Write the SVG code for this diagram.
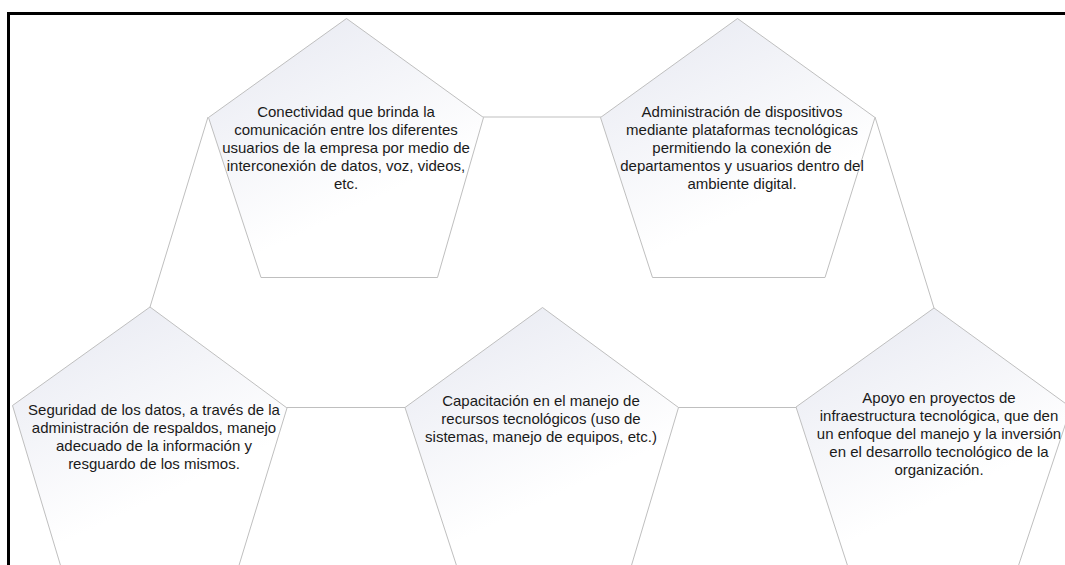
<svg xmlns="http://www.w3.org/2000/svg" width="1065" height="565" viewBox="0 0 1065 565">
<style>
.pent{fill:url(#g);stroke:#bfbfbf;stroke-width:1}
.conn{stroke:#bfbfbf;stroke-width:1;fill:none}
.t{font-family:"Liberation Sans",Arial,sans-serif;font-size:15px;fill:#1a1a1a;text-anchor:middle}
.frame{stroke:#000;stroke-width:3;fill:none}
</style>
<defs>
<linearGradient id="g" x1="0" y1="0" x2="0.4" y2="0.8">
<stop offset="0" stop-color="#e6e8f1"/>
<stop offset="1" stop-color="#ffffff"/>
</linearGradient>
</defs>
<rect width="1065" height="565" fill="#fff"/>
<path class="frame" d="M8.5 565 V13.5 H1065"/>
<g id="connectors">
<line class="conn" x1="483" y1="117" x2="601" y2="117"/>
<line class="conn" x1="875" y1="117" x2="934" y2="308"/>
<line class="conn" x1="208" y1="117" x2="150" y2="307"/>
<line class="conn" x1="287" y1="407.5" x2="405" y2="407.5"/>
<line class="conn" x1="678" y1="407.5" x2="796" y2="407.5"/>
</g>
<g id="node1">
<polygon class="pent" points="346.5,18.5 483.5,117.5 437.5,277.5 261,277.5 208.5,117.5"/>
<text class="t"><tspan x="346" y="117">Conectividad que brinda la</tspan><tspan x="346" y="135">comunicación entre los diferentes</tspan><tspan x="346" y="153">usuarios de la empresa por medio de</tspan><tspan x="346" y="171">interconexión de datos, voz, videos,</tspan><tspan x="346" y="189">etc.</tspan></text>
</g>
<g id="node2">
<polygon class="pent" points="737.5,18.5 875,117.5 825,277.5 652.5,277.5 600.5,117.5"/>
<text class="t"><tspan x="742" y="117">Administración de dispositivos</tspan><tspan x="742" y="135">mediante plataformas tecnológicas</tspan><tspan x="742" y="153">permitiendo la conexión de</tspan><tspan x="742" y="171">departamentos y usuarios dentro del</tspan><tspan x="742" y="189">ambiente digital.</tspan></text>
</g>
<g id="node3">
<polygon class="pent" points="542.5,307.5 678.5,407.5 631,567 457,567 405,407.5"/>
<text class="t"><tspan x="541" y="406">Capacitación en el manejo de</tspan><tspan x="541" y="424">recursos tecnológicos (uso de</tspan><tspan x="541" y="442">sistemas, manejo de equipos, etc.)</tspan></text>
</g>
<g id="node4">
<polygon class="pent" points="150,307 287,408 238.5,567 61,567 12.5,405.5"/>
<text class="t"><tspan x="154" y="415">Seguridad de los datos, a través de la</tspan><tspan x="154" y="433">administración de respaldos, manejo</tspan><tspan x="154" y="451">adecuado de la información y</tspan><tspan x="154" y="469">resguardo de los mismos.</tspan></text>
</g>
<g id="node5">
<polygon class="pent" points="934,308 1071,407.5 1018,567 848,567 796,407"/>
<text class="t"><tspan x="939" y="403">Apoyo en proyectos de</tspan><tspan x="939" y="421">infraestructura tecnológica, que den</tspan><tspan x="939" y="439">un enfoque del manejo y la inversión</tspan><tspan x="939" y="457">en el desarrollo tecnológico de la</tspan><tspan x="939" y="475">organización.</tspan></text>
</g>
</svg>
